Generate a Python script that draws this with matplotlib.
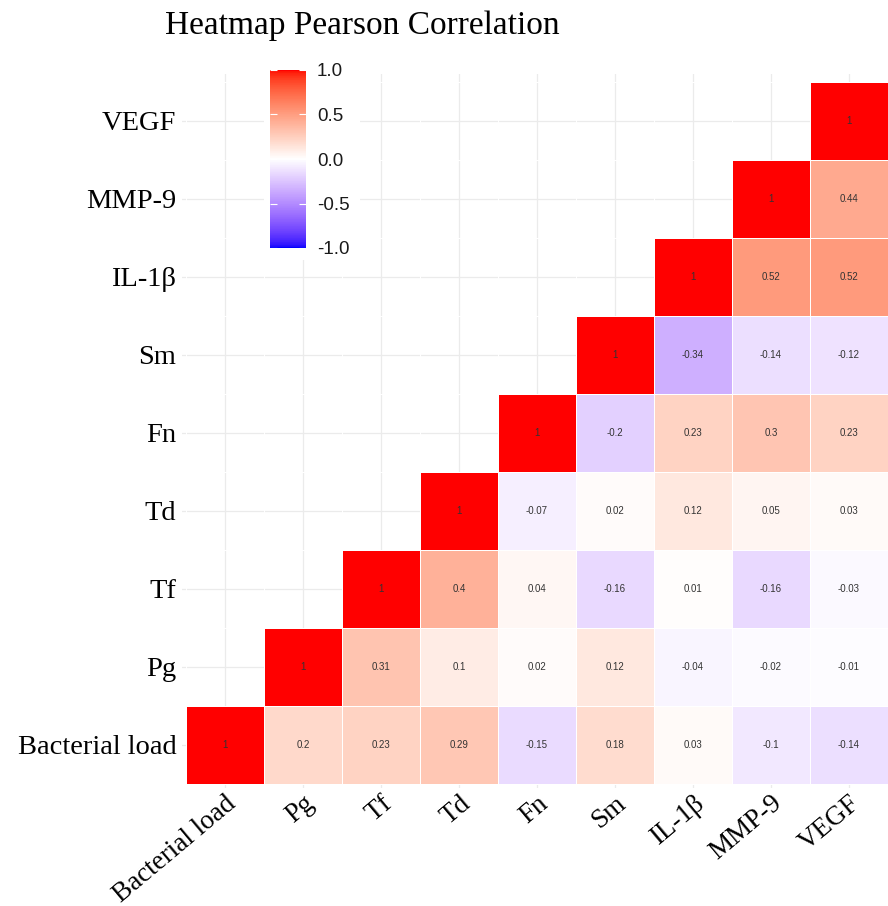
import numpy as np
import matplotlib
matplotlib.use('Agg')
from matplotlib import pyplot as plt
from matplotlib.colors import ListedColormap
from matplotlib.patches import Rectangle

labels = ['Bacterial load', 'Pg', 'Tf', 'Td', 'Fn', 'Sm', 'IL-1β', 'MMP-9', 'VEGF']

# upper triangle of the correlation matrix, row by row (starting at the diagonal)
r_bacterial = [1, 0.2, 0.23, 0.29, -0.15, 0.18, 0.03, -0.1, -0.14]
r_pg = [1, 0.31, 0.1, 0.02, 0.12, -0.04, -0.02, -0.01]
r_tf = [1, 0.4, 0.04, -0.16, 0.01, -0.16, -0.03]
r_td = [1, -0.07, 0.02, 0.12, 0.05, 0.03]
r_fn = [1, -0.2, 0.23, 0.3, 0.23]
r_sm = [1, -0.34, -0.14, -0.12]
r_il1b = [1, 0.52, 0.52]
r_mmp9 = [1, 0.44]
r_vegf = [1]
rows = [r_bacterial, r_pg, r_tf, r_td, r_fn, r_sm, r_il1b, r_mmp9, r_vegf]


def srgb_to_lab(c):
	c = np.asarray(c, float)
	lin = np.where(c <= 0.04045, c / 12.92, ((c + 0.055) / 1.055) ** 2.4)
	M = np.array([[0.4124, 0.3576, 0.1805],
				  [0.2126, 0.7152, 0.0722],
				  [0.0193, 0.1192, 0.9505]])
	xyz = M @ lin / np.array([0.95047, 1.0, 1.08883])
	f = np.where(xyz > 0.008856, np.cbrt(xyz), 7.787 * xyz + 16 / 116)
	return np.array([116 * f[1] - 16, 500 * (f[0] - f[1]), 200 * (f[1] - f[2])])


def lab_to_srgb(lab):
	L, a, b = lab
	fy = (L + 16) / 116
	fx = fy + a / 500
	fz = fy - b / 200
	f = np.array([fx, fy, fz])
	xyz = np.where(f ** 3 > 0.008856, f ** 3, (f - 16 / 116) / 7.787)
	xyz = xyz * np.array([0.95047, 1.0, 1.08883])
	Minv = np.array([[3.2406, -1.5372, -0.4986],
					 [-0.9689, 1.8758, 0.0415],
					 [0.0557, -0.2040, 1.0570]])
	lin = Minv @ xyz
	c = np.where(lin <= 0.0031308, 12.92 * lin, 1.055 * np.abs(lin) ** (1 / 2.4) - 0.055)
	return np.clip(c, 0, 1)


# blue - white - red gradient interpolated in Lab space
lab_lo = srgb_to_lab([0, 0, 1])
lab_mid = srgb_to_lab([1, 1, 1])
lab_hi = srgb_to_lab([1, 0, 0])
cols = []
for t in np.linspace(-1, 1, 256):
	if t < 0:
		lab = lab_mid + (lab_lo - lab_mid) * (-t)
	else:
		lab = lab_mid + (lab_hi - lab_mid) * t
	cols.append(lab_to_srgb(lab))
cmap = ListedColormap(cols)

n = len(labels)
mat = np.full((n, n), np.nan)
for i in range(n):
	for k, v in enumerate(rows[i]):
		mat[i, i + k] = v
masked = np.ma.masked_invalid(mat)

serif = ['Liberation Serif', 'DejaVu Serif']
sans = ['Liberation Sans', 'DejaVu Sans']

fig = plt.figure(figsize=(8.88, 9.06), dpi=100)
ax = fig.add_axes([182 / 888, 118 / 906, 706 / 888, 714 / 906])

edges = np.arange(n + 1) - 0.5
mesh = ax.pcolormesh(edges, edges, masked, cmap=cmap, vmin=-1, vmax=1,
					 edgecolors='white', linewidth=0.5)

for i in range(n):
	for j in range(n):
		if not np.isnan(mat[i, j]):
			ax.text(j, i, '%g' % mat[i, j], ha='center', va='center',
					fontsize=7, color='#333333', family=sans)

ax.set_xlim(-0.5 - 4 / 78, n - 0.5)
ax.set_ylim(-0.5 - 4 / 78, n - 0.5 + 8 / 78)
ax.set_xticks(range(n))
ax.set_yticks(range(n))
ax.set_xticklabels(labels, rotation=40, ha='right', va='top',
				   rotation_mode='anchor', family=serif, fontsize=19.5)
ax.set_yticklabels(labels, family=serif, fontsize=20.5)
ax.tick_params(length=0, pad=4, colors='black')
ax.tick_params(axis='x', pad=2)
ax.grid(color='#EBEBEB', linewidth=0.9)
ax.set_axisbelow(True)
for s in ax.spines.values():
	s.set_visible(False)

fig.text(362 / 888, 1 - 26 / 906, 'Heatmap Pearson Correlation', ha='center',
		 va='center', family=serif, fontsize=24)

# legend box sits over the grid
fig.patches.append(Rectangle((264 / 888, 1 - 260 / 906), 96 / 888, 200 / 906,
							 transform=fig.transFigure, facecolor='white',
							 edgecolor='none', zorder=1))
cax = fig.add_axes([270 / 888, 1 - 248 / 906, 36 / 888, 178 / 906])
cax.set_zorder(2)
cb = fig.colorbar(mesh, cax=cax, ticks=[-1, -0.5, 0, 0.5, 1])
cb.outline.set_visible(False)
cb.ax.set_yticklabels(['-1.0', '-0.5', '0.0', '0.5', '1.0'], family=sans,
					  fontsize=13.5, color='#1a1a1a')
cax.tick_params(axis='y', direction='in', color='white', length=5, width=0.8,
				left=True, right=True, labelleft=False, labelright=True, pad=8)

fig.savefig('out.png', dpi=100)
